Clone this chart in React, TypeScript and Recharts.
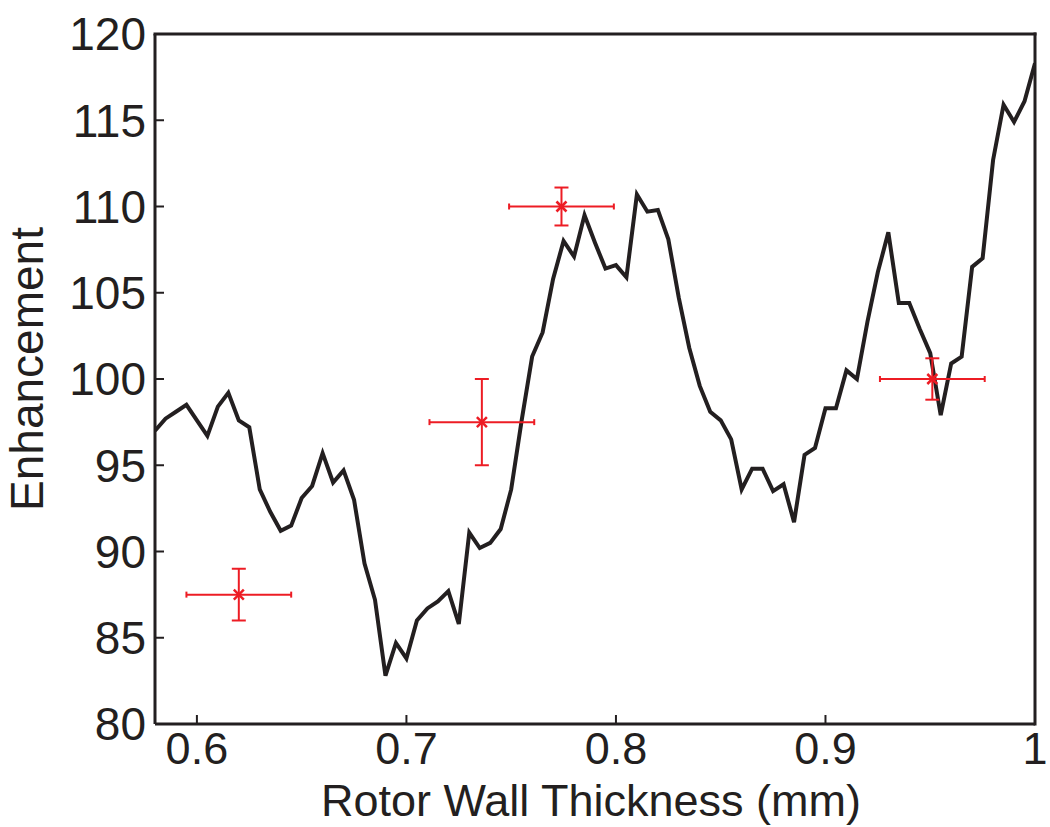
import React from "react";
import {
    ComposedChart, Line, Scatter, XAxis, YAxis, ErrorBar, ReferenceLine,
} from "recharts";

// simulated curve
const thickness = [
    0.58, 0.585, 0.59, 0.595, 0.6, 0.605, 0.61, 0.615, 0.62, 0.625,
    0.63, 0.635, 0.64, 0.645, 0.65, 0.655, 0.66, 0.665, 0.67, 0.675,
    0.68, 0.685, 0.69, 0.695, 0.7, 0.705, 0.71, 0.715, 0.72, 0.725,
    0.73, 0.735, 0.74, 0.745, 0.75, 0.755, 0.76, 0.765, 0.77, 0.775,
    0.78, 0.785, 0.79, 0.795, 0.8, 0.805, 0.81, 0.815, 0.82, 0.825,
    0.83, 0.835, 0.84, 0.845, 0.85, 0.855, 0.86, 0.865, 0.87, 0.875,
    0.88, 0.885, 0.89, 0.895, 0.9, 0.905, 0.91, 0.915, 0.92, 0.925,
    0.93, 0.935, 0.94, 0.945, 0.95, 0.955, 0.96, 0.965, 0.97, 0.975,
    0.98, 0.985, 0.99, 0.995, 1.0,
];
const enhancement = [
    97.0, 97.7, 98.1, 98.5, 97.6, 96.7, 98.4, 99.2, 97.6, 97.2,
    93.6, 92.3, 91.2, 91.5, 93.1, 93.8, 95.7, 94.0, 94.7, 93.0,
    89.3, 87.2, 82.8, 84.7, 83.8, 86.0, 86.7, 87.1, 87.7, 85.8,
    91.1, 90.2, 90.5, 91.3, 93.6, 97.6, 101.3, 102.7, 105.8, 108.0,
    107.1, 109.5, 107.9, 106.4, 106.6, 105.9, 110.7, 109.7, 109.8, 108.1,
    104.7, 101.8, 99.6, 98.1, 97.6, 96.5, 93.6, 94.8, 94.8, 93.5,
    93.9, 91.7, 95.6, 96.0, 98.3, 98.3, 100.5, 100.0, 103.3, 106.2,
    108.5, 104.4, 104.4, 102.9, 101.5, 97.9, 100.9, 101.3, 106.5, 107.0,
    112.7, 115.9, 114.9, 116.1, 118.3,
];

// measured points
const measX = [0.62, 0.736, 0.774, 0.951];
const measY = [87.5, 97.5, 110.0, 100.0];
const measXErr = [0.025, 0.025, 0.025, 0.025];
const measYErr = [1.5, 2.5, 1.1, 1.2];

const xTicks = [0.6, 0.7, 0.8, 0.9, 1];
const yTicks = [80, 85, 90, 95, 100, 105, 110, 115, 120];

const lineData = thickness.map((x, i) => ({ x, y: enhancement[i] }));
const measData = measX.map((x, i) => ({ x, y: measY[i], ex: measXErr[i], ey: measYErr[i] }));

const INK = "#231F20";
const RED = "#ED1C24";
const FONT = "'Liberation Sans', Arial, sans-serif";

const XTick = ({ x, y, payload }: any) => (
    <g>
        <line x1={x} x2={x} y1={y - 8} y2={y - 17} stroke={INK} strokeWidth={2} />
        <text x={x} y={y} dy="0.71em" textAnchor="middle" fontSize={45} fontFamily={FONT} fill={INK}>
            {String(payload.value)}
        </text>
    </g>
);

const YTick = ({ x, y, payload }: any) => (
    <g>
        <line x1={x + 9} x2={x + 18} y1={y} y2={y} stroke={INK} strokeWidth={2} />
        <text x={x} y={y} dy="0.355em" textAnchor="end" fontSize={46} fontFamily={FONT} fill={INK}>
            {payload.value}
        </text>
    </g>
);

const XMark = ({ cx, cy }: any) => (
    <g stroke={RED} strokeWidth={2.5}>
        <line x1={cx - 5} y1={cy - 5} x2={cx + 5} y2={cy + 5} />
        <line x1={cx - 5} y1={cy + 5} x2={cx + 5} y2={cy - 5} />
    </g>
);

export default function App() {
    return (
        <div style={{ position: "absolute", left: 0, top: 0, width: 1050, height: 827, background: "#fff" }}>
            <ComposedChart width={1050} height={827} margin={{ top: 34, right: 15, bottom: 0, left: 0 }}>
                <XAxis
                    dataKey="x" type="number" domain={[0.58, 1]} ticks={xTicks} allowDataOverflow
                    height={103} tickSize={0} tickMargin={8} tick={<XTick />}
                    axisLine={{ stroke: INK, strokeWidth: 3 }}
                    label={{
                        content: ({ viewBox }: any) => (
                            <text x={viewBox.x + viewBox.width / 2 - 4} y={816} textAnchor="middle"
                                fontSize={45} fontFamily={FONT} fill={INK}>
                                Rotor Wall Thickness (mm)
                            </text>
                        ),
                    }}
                />
                <YAxis
                    type="number" domain={[80, 120]} ticks={yTicks} allowDataOverflow
                    width={155} tickSize={0} tickMargin={9} tick={<YTick />}
                    axisLine={{ stroke: INK, strokeWidth: 3 }}
                    label={{
                        content: ({ viewBox }: any) => {
                            const cy = viewBox.y + viewBox.height / 2 - 10;
                            return (
                                <text x={27} y={cy} transform={`rotate(-90 27 ${cy})`} dy="0.355em"
                                    textAnchor="middle" fontSize={46} fontFamily={FONT} fill={INK}>
                                    Enhancement
                                </text>
                            );
                        },
                    }}
                />
                <ReferenceLine y={120} stroke={INK} strokeWidth={3} strokeLinecap="square" />
                <ReferenceLine x={1} stroke={INK} strokeWidth={3} strokeLinecap="square" />
                <Line
                    data={lineData} dataKey="y" type="linear" stroke={INK} strokeWidth={4}
                    dot={false} activeDot={false} isAnimationActive={false}
                />
                <Scatter data={measData} dataKey="y" fill={RED} shape={<XMark />} isAnimationActive={false}>
                    <ErrorBar dataKey="ex" direction="x" width={3} stroke={RED} strokeWidth={2} isAnimationActive={false} />
                    <ErrorBar dataKey="ey" direction="y" width={7} stroke={RED} strokeWidth={2} isAnimationActive={false} />
                </Scatter>
            </ComposedChart>
        </div>
    );
}
